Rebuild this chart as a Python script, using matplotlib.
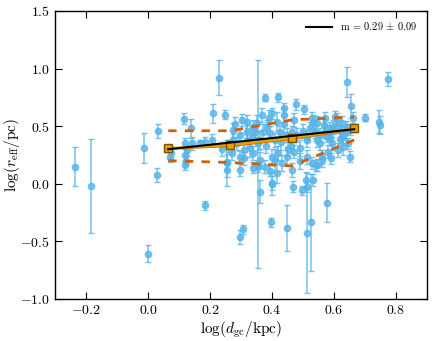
import numpy as np
import matplotlib
matplotlib.use("Agg")
import matplotlib.pyplot as plt

plt.rcParams['font.family'] = 'serif'
plt.rcParams['font.serif'] = ['cmr10', 'DejaVu Serif']
plt.rcParams['mathtext.fontset'] = 'cm'
plt.rcParams['axes.formatter.use_mathtext'] = True

##### cluster data: log(d_gc/kpc), log(r_eff/pc), error
d_gc = [-0.235, -0.185, -0.013, 0.0, 0.03, 0.033, 0.182, 0.116, 0.138, 0.209,
        0.228, 0.073, 0.071, 0.12, 0.12, 0.141, 0.168, 0.184, 0.205, 0.125,
        0.123, 0.118, 0.248, 0.377, 0.418, 0.643, 0.775, 0.477, 0.439, 0.503,
        0.303, 0.40, 0.367, 0.655, 0.701, 0.745, 0.748, 0.652, 0.541, 0.355,
        0.36, 0.256, 0.337, 0.394, 0.401, 0.467, 0.498, 0.51, 0.577, 0.395,
        0.305, 0.295, 0.449, 0.526, 0.514,
        0.238, 0.256, 0.275, 0.297, 0.318, 0.34, 0.35, 0.383, 0.415, 0.437,
        0.528, 0.544, 0.566, 0.603, 0.625, 0.641, 0.297, 0.308, 0.329, 0.356,
        0.361, 0.377, 0.399, 0.41, 0.42, 0.431, 0.447, 0.464, 0.49, 0.512,
        0.528, 0.544, 0.56, 0.576, 0.592, 0.614, 0.635, 0.533, 0.512, 0.415,
        0.399, 0.356, 0.297, 0.254, 0.275, 0.286, 0.318, 0.334, 0.345, 0.372,
        0.394, 0.426, 0.447, 0.464, 0.48, 0.512, 0.523, 0.539, 0.555, 0.571,
        0.587, 0.609, 0.63, 0.646, 0.533, 0.571, 0.598, 0.625, 0.587, 0.555,
        0.63, 0.544, 0.56, 0.589, 0.512, 0.662, 0.26, 0.27, 0.31, 0.34,
        0.38, 0.43, 0.46, 0.47, 0.5, 0.44, 0.47, 0.39, 0.32, 0.28,
        0.36, 0.41, 0.45, 0.49, 0.58, 0.62, 0.61, 0.65]
r_eff = [0.15, -0.02, 0.31, -0.605, 0.075, 0.46, -0.185, 0.565, 0.48, 0.61,
         0.92, 0.265, 0.235, 0.35, 0.25, 0.35, 0.35, 0.365, 0.38, 0.29,
         0.20, 0.16, 0.60, 0.745, 0.75, 0.88, 0.91, 0.69, 0.655, 0.645,
         0.555, 0.61, 0.60, 0.675, 0.575, 0.54, 0.51, 0.235, 0.16, 0.17,
         -0.07, 0.18, 0.14, 0.115, 0.0, -0.025, -0.055, 0.035, -0.165, -0.335,
         -0.395, -0.465, -0.385, -0.335, -0.43,
         0.30, 0.19, 0.465, 0.425, 0.45, 0.495, 0.525, 0.495, 0.54, 0.595,
         0.57, 0.525, 0.51, 0.58, 0.525, 0.495, 0.235, 0.22, 0.31, 0.35,
         0.205, 0.15, 0.235, 0.205, 0.265, 0.18, 0.235, 0.12, 0.31, 0.235,
         0.18, 0.38, 0.235, 0.41, 0.35, 0.295, 0.44, 0.035, -0.025, 0.09,
         0.005, 0.15, 0.12, 0.12, 0.38, 0.35, 0.38, 0.41, 0.45, 0.45,
         0.44, 0.45, 0.425, 0.45, 0.425, 0.41, 0.48, 0.45, 0.425, 0.45,
         0.48, 0.495, 0.41, 0.35, 0.54, 0.57, 0.495, 0.45, 0.395, 0.35,
         0.32, 0.165, 0.205, 0.22, 0.38, 0.575, 0.33, 0.27, 0.29, 0.27,
         0.33, 0.36, 0.33, 0.28, 0.46, 0.52, 0.55, 0.57, 0.54, 0.52,
         0.38, 0.38, 0.30, 0.20, 0.28, 0.39, 0.56, 0.47]
r_err = [0.17, 0.41, 0.13, 0.07, 0.06, 0.06, 0.04, 0.05, 0.08, 0.08,
         0.15, 0.05, 0.05, 0.05, 0.05, 0.06, 0.03, 0.04, 0.05, 0.05,
         0.04, 0.04, 0.04, 0.03, 0.04, 0.13, 0.06, 0.05, 0.05, 0.04,
         0.05, 0.05, 0.06, 0.10, 0.03, 0.10, 0.08, 0.05, 0.05, 0.90,
         0.10, 0.20, 0.05, 0.05, 0.10, 0.05, 0.04, 0.07, 0.17, 0.04,
         0.04, 0.06, 0.20, 0.42, 0.52,
         0.06, 0.07, 0.06, 0.05, 0.06, 0.06, 0.07, 0.06, 0.08, 0.06,
         0.05, 0.06, 0.05, 0.05, 0.06, 0.05, 0.05, 0.06, 0.08, 0.06,
         0.07, 0.06, 0.07, 0.10, 0.06, 0.07, 0.08, 0.06, 0.07, 0.06,
         0.05, 0.06, 0.06, 0.05, 0.06, 0.06, 0.05, 0.05, 0.05, 0.08,
         0.06, 0.05, 0.05, 0.06, 0.05, 0.06, 0.07, 0.06, 0.05, 0.07,
         0.06, 0.05, 0.06, 0.05, 0.06, 0.05, 0.06, 0.05, 0.06, 0.05,
         0.06, 0.05, 0.06, 0.05, 0.06, 0.05, 0.06, 0.05, 0.06, 0.06,
         0.07, 0.05, 0.06, 0.05, 0.06, 0.05, 0.05, 0.06, 0.07, 0.06,
         0.06, 0.07, 0.06, 0.06, 0.06, 0.07, 0.06, 0.07, 0.06, 0.06,
         0.08, 0.06, 0.06, 0.07, 0.06, 0.05, 0.05, 0.05]

##### binned statistics
bin_x = [0.065, 0.265, 0.465, 0.665]
bin_mean = [0.308, 0.337, 0.395, 0.482]
bin_err = [0.03, 0.035, 0.015, 0.03]
bin_median = [0.30, 0.325, 0.385, 0.47]
bin_upper = [0.46, 0.46, 0.555, 0.58]
bin_lower = [0.20, 0.185, 0.155, 0.38]

slope = 0.29
slope_err = 0.09
intercept = 0.281

fig = plt.figure(figsize=(4.34, 3.41), dpi=100)
ax = fig.add_axes([0.127, 0.123, 0.857, 0.845])

ax.errorbar(d_gc, r_eff, yerr=r_err, fmt='o', color='#56B4E9', ms=4.5,
            mec='#56B4E9', ecolor='#56B4E9', elinewidth=1.1, capsize=2.5,
            alpha=0.8, zorder=2)

ax.plot(bin_x, bin_upper, '--', color='#D55E00', lw=2, dashes=(3, 3), zorder=3)
ax.plot(bin_x, bin_lower, '--', color='#D55E00', lw=2, dashes=(3, 3), zorder=3)
ax.plot(bin_x, bin_median, '-', color='#D55E00', lw=1.0, zorder=3)
ax.errorbar(bin_x, bin_mean, yerr=bin_err, fmt='s-', color='#E69F00',
            mec='#7a5200', ms=6, lw=1.8, capsize=3, zorder=4)

fit_x = np.array([bin_x[0], bin_x[-1]])
ax.plot(fit_x, np.polyval([slope, intercept], fit_x), '-', color='k', lw=1.5,
        zorder=5, label=r'm = %.2f $\pm$ %.2f' % (slope, slope_err))

ax.set_xlim(-0.3, 0.9)
ax.set_ylim(-1.0, 1.5)
ax.set_xticks([-0.2, 0.0, 0.2, 0.4, 0.6, 0.8])
ax.set_yticks([-1.0, -0.5, 0.0, 0.5, 1.0, 1.5])
ax.tick_params(direction='in', top=True, right=True, labelsize=10, length=5)
ax.set_xlabel(r'$\log(d_{\rm gc}/{\rm kpc})$', fontsize=11, labelpad=2)
ax.set_ylabel(r'$\log(r_{\rm eff}/{\rm pc})$', fontsize=11, labelpad=-1)
for s in ax.spines.values():
    s.set_linewidth(1.0)

ax.legend(loc='upper right', frameon=False, fontsize=7.5, handlelength=2.5)

plt.savefig("out.png", dpi=100)
